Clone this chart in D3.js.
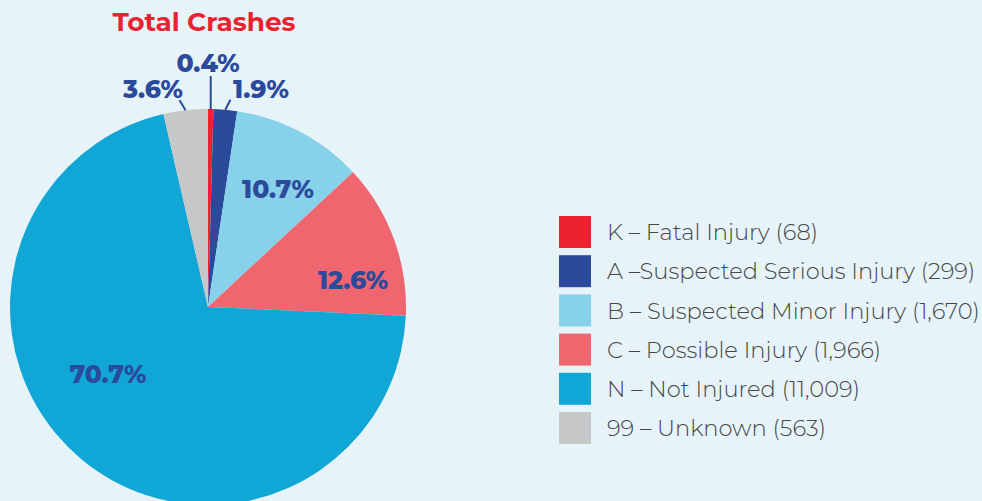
<!DOCTYPE html>
<html>
<head>
<meta charset="utf-8">
<script src="https://cdn.jsdelivr.net/npm/d3@7/dist/d3.min.js"></script>
<style>
  html, body { margin: 0; padding: 0; background: #e6f4fa; }
  svg { display: block; }
</style>
</head>
<body>
<script>
// Injury severity of all crashes
const categories = ["K", "A", "B", "C", "N", "99"];
const legendLabels = [
  "K – Fatal Injury (68)",
  "A –Suspected Serious Injury (299)",
  "B – Suspected Minor Injury (1,670)",
  "C – Possible Injury (1,966)",
  "N – Not Injured (11,009)",
  "99 – Unknown (563)"
];
const counts = [68, 299, 1670, 1966, 11009, 563];
const percentLabels = ["0.4%", "1.9%", "10.7%", "12.6%", "70.7%", "3.6%"];
const colors = ["#ed2230", "#2b4a9b", "#87d1ea", "#f0666e", "#10a6d6", "#c6c7c9"];

const W = 982, H = 501;
const cx = 208, cy = 307, R = 198;
const labelColor = "#2b4a9b";
const labelFont = "Montserrat, Inter, 'Open Sans', sans-serif";

const svg = d3.select("body").append("svg")
  .attr("width", W).attr("height", H);

svg.append("rect").attr("width", W).attr("height", H).attr("fill", "#e6f4fa");

// Title
svg.append("text")
  .attr("x", 204).attr("y", 31)
  .attr("text-anchor", "middle")
  .attr("font-family", labelFont)
  .attr("font-weight", 700)
  .attr("font-size", 26.3)
  .attr("fill", "#e8232f")
  .text("Total Crashes");

// Pie
const pie = d3.pie().sort(null).value(d => d.value);
const data = categories.map((c, i) => ({ cat: c, value: counts[i], label: percentLabels[i], color: colors[i] }));
const arcs = pie(data);
const arc = d3.arc().innerRadius(0).outerRadius(R);

const g = svg.append("g").attr("transform", `translate(${cx},${cy})`);
g.selectAll("path").data(arcs).enter().append("path")
  .attr("d", arc)
  .attr("fill", d => d.data.color);

// Percentage label placement (text centre x, baseline y, relative to pie centre)
const labelPos = {
  K:    [0, -235],
  A:    [53, -209],
  B:    [70, -109],
  C:    [145, -18],
  N:    [-100, 76],
  "99": [-55, -209]
};

// Leader lines for the thin slices at the top: start point relative to the slice's rim point
const leaders = {
  K:    { dx: 0, dy: -33 },
  A:    { dx: 5, dy: -10 },
  "99": { dx: -6, dy: -10 }
};

arcs.forEach(a => {
  const mid = (a.startAngle + a.endAngle) / 2;
  const rx = R * Math.sin(mid), ry = -R * Math.cos(mid);
  const ld = leaders[a.data.cat];
  if (ld) {
    g.append("line")
      .attr("x1", rx + ld.dx).attr("y1", ry + ld.dy)
      .attr("x2", rx).attr("y2", ry)
      .attr("stroke", labelColor).attr("stroke-width", 2);
  }
  const p = labelPos[a.data.cat];
  g.append("text")
    .attr("x", p[0]).attr("y", p[1])
    .attr("text-anchor", "middle")
    .attr("font-family", labelFont)
    .attr("font-weight", 800)
    .attr("font-size", 25)
    .attr("fill", labelColor)
    .text(a.data.label);
});

// Legend
const legendY = d3.scaleBand().domain(categories).range([216, 444]).paddingInner(0.184);
const legend = svg.append("g");
categories.forEach((c, i) => {
  const y = legendY(c);
  legend.append("rect")
    .attr("x", 559).attr("y", y)
    .attr("width", 32).attr("height", legendY.bandwidth())
    .attr("fill", colors[i]);
  legend.append("text")
    .attr("x", 607).attr("y", y + legendY.bandwidth() / 2)
    .attr("dy", "0.36em")
    .attr("font-family", "Montserrat, 'Open Sans', sans-serif")
    .attr("font-weight", 300)
    .attr("font-size", 22.6)
    .attr("fill", "#474747")
    .text(legendLabels[i]);
});
</script>
</body>
</html>
